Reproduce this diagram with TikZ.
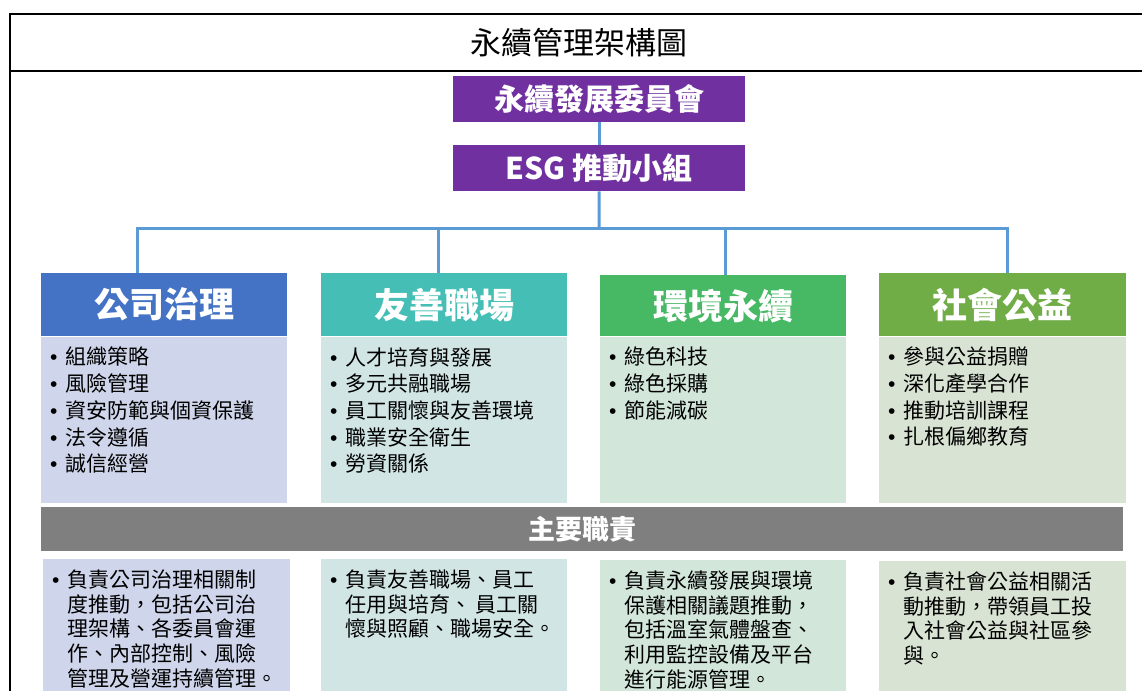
\documentclass[tikz,border=0pt]{standalone}
\usepackage{fontspec}
\newfontfamily\cjk{Noto Sans CJK TC}
\newfontfamily\latinf{Liberation Sans}
\newcommand\bl{\makebox[15pt][l]{{\latinf •}}}
\newcommand\ind{\hspace*{15pt}}
\definecolor{purp}{HTML}{7030A0}
\definecolor{conn}{HTML}{5B9BD5}
\definecolor{hA}{HTML}{4472C4}
\definecolor{bA}{HTML}{CFD5EA}
\definecolor{hB}{HTML}{45BFB6}
\definecolor{bB}{HTML}{D1E5E5}
\definecolor{hC}{HTML}{47B864}
\definecolor{bC}{HTML}{D2E6DA}
\definecolor{hD}{HTML}{70AD47}
\definecolor{bD}{HTML}{D9E3D3}
\definecolor{gbar}{HTML}{7F7F7F}
\begin{document}
\begin{tikzpicture}[x=1pt,y=-1pt,
  frameline/.style={line width=2.5pt,black},
  purpbox/.style={fill=purp,anchor=north west,minimum width=292pt,minimum height=46pt,inner sep=0pt,text=white,font=\cjk\bfseries\fontsize{30}{34}\selectfont},
  hdr/.style={anchor=north west,minimum width=246pt,minimum height=63pt,inner sep=0pt,text=white,font=\cjk\bfseries\fontsize{35}{40}\selectfont},
  bodybox/.style={anchor=north west,minimum width=246pt,minimum height=166pt,inner sep=0pt},
  respbox/.style={anchor=north west,minimum width=247pt,minimum height=132pt,inner sep=0pt},
  toplist/.style={anchor=north west,inner sep=0pt,align=left,font=\cjk\fontsize{21}{26.7}\selectfont},
  botlist/.style={anchor=north west,inner sep=0pt,align=left,font=\cjk\fontsize{21}{24.7}\selectfont},
  connline/.style={conn,line width=3pt}
]
\useasboundingbox (0,0) rectangle (1142,691);
\fill[white] (0,0) rectangle (1142,691);
% frame
\draw[frameline] (1142,14) -- (10,14) -- (10,691);
\draw[frameline] (10,71) -- (1142,71);
\node[font=\cjk\fontsize{31}{36}\selectfont] (title) at (579,43) {永續管理架構圖};
% top boxes
\node[purpbox] (comm) at (453,76) {永續發展委員會};
\node[purpbox] (esg) at (453,145) {ESG 推動小組};
% headers
\node[hdr,fill=hA] (h1) at (41,273) {公司治理};
\node[hdr,fill=hB] (h2) at (321,273) {友善職場};
\node[hdr,fill=hC,minimum height=61pt] (h3) at (600,275) {環境永續};
\node[hdr,fill=hD,minimum width=247pt] (h4) at (879,273) {社會公益};
% bodies
\node[bodybox,fill=bA] (b1) at (h1.south west) {};
\node[bodybox,fill=bB] (b2) at (h2.south west) {};
\node[bodybox,fill=bC] (b3) at (h3.south west) {};
\node[bodybox,fill=bD,minimum width=247pt] (b4) at (h4.south west) {};
% lists
\node[toplist] (l1) at ([xshift=9pt,yshift=-10.5pt]b1.north west) {\bl 組織策略\\\bl 風險管理\\\bl 資安防範與個資保護\\\bl 法令遵循\\\bl 誠信經營};
\node[toplist] (l2) at ([xshift=9pt,yshift=-10.5pt]b2.north west) {\bl 人才培育與發展\\\bl 多元共融職場\\\bl 員工關懷與友善環境\\\bl 職業安全衛生\\\bl 勞資關係};
\node[toplist] (l3) at ([xshift=9pt,yshift=-10.5pt]b3.north west) {\bl 綠色科技\\\bl 綠色採購\\\bl 節能減碳};
\node[toplist] (l4) at ([xshift=9pt,yshift=-10.5pt]b4.north west) {\bl 參與公益捐贈\\\bl 深化產學合作\\\bl 推動培訓課程\\\bl 扎根偏鄉教育};
% responsibilities bar
\node[fill=gbar,anchor=north west,minimum width=1082pt,minimum height=44pt,inner sep=0pt,text=white,font=\cjk\bfseries\fontsize{27}{30}\selectfont] (duty) at (41,507) {主要職責};
% responsibility boxes
\node[respbox,fill=bA] (r1) at (43,559) {};
\node[respbox,fill=bB,minimum width=246pt] (r2) at (321,559) {};
\node[respbox,fill=bC,minimum width=246pt,minimum height=131pt] (r3) at (600,560) {};
\node[respbox,fill=bD,minimum height=130pt] (r4) at (879,561) {};
\node[botlist] (t1) at ([xshift=9pt,yshift=-10.5pt]r1.north west) {\bl 負責公司治理相關制\\\ind 度推動，包括公司治\\\ind 理架構、各委員會運\\\ind 作、內部控制、風險\\\ind 管理及營運持續管理。};
\node[botlist] (t2) at ([xshift=9pt,yshift=-10.5pt]r2.north west) {\bl 負責友善職場、員工\\\ind 任用與培育、 員工關\\\ind 懷與照顧、職場安全。};
\node[botlist] (t3) at ([xshift=9pt,yshift=-10.5pt]r3.north west) {\bl 負責永續發展與環境\\\ind 保護相關議題推動，\\\ind 包括溫室氣體盤查、\\\ind 利用監控設備及平台\\\ind 進行能源管理。};
\node[botlist] (t4) at ([xshift=9pt,yshift=-10.5pt]r4.north west) {\bl 負責社會公益相關活\\\ind 動推動，帶領員工投\\\ind 入社會公益與社區參\\\ind 與。};
% connectors
\coordinate (hub) at (599,228.5);
\draw[connline] (comm.south) -- (esg.north);
\draw[connline] (esg.south) -- (hub);
\draw[connline] (hub) -| ([xshift=-27pt]h1.north);
\draw[connline] (hub) -| ([xshift=-6pt]h2.north);
\draw[connline] (hub) -| ([xshift=2pt]h3.north);
\draw[connline] (hub) -| ([xshift=4.5pt]h4.north);
\end{tikzpicture}
\end{document}
